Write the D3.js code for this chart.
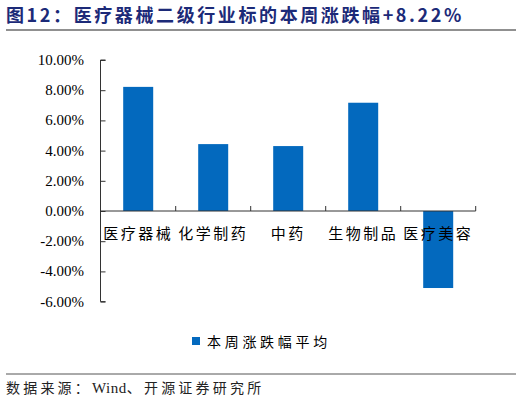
<!DOCTYPE html>
<html>
<head>
<meta charset="utf-8">
<style>
body { margin:0; background:#fff; }
</style>
</head>
<body>
<script src="https://cdn.jsdelivr.net/npm/d3@7/dist/d3.min.js"></script>
<script>
// chart data
var categories = ["医疗器械", "化学制药", "中药", "生物制品", "医疗美容"];
var values = [8.22, 4.43, 4.30, 7.17, -5.10];
var yTicks = [10, 8, 6, 4, 2, 0, -2, -4, -6];
var seriesName = "本周涨跌幅平均";

var W = 522, H = 404;
var svg = d3.select("body").append("svg")
    .attr("width", W).attr("height", H);

var cjk = "'Noto Sans CJK SC', sans-serif";
var serif = "'Liberation Serif', 'DejaVu Serif', serif";

// title + rule
svg.append("text")
    .attr("x", 6).attr("y", 22)
    .style("font-family", cjk).style("font-weight", "bold")
    .style("font-size", "18px").style("letter-spacing", "2.6px")
    .style("fill", "#1c2a78")
    .text("图12：医疗器械二级行业标的本周涨跌幅+8.22%");
svg.append("line").attr("x1", 6).attr("x2", 516).attr("y1", 30).attr("y2", 30)
    .style("stroke", "#222").style("stroke-width", 1.2);

var x = d3.scaleBand().domain(categories).range([100.7, 475.7]).paddingInner(0.6).paddingOuter(0.3);
var xb = d3.scaleBand().domain(categories).range([100.7, 475.7]);
var y = d3.scaleLinear().domain([-6, 10]).range([301.6, 60]);

// bars
svg.selectAll("rect.bar").data(values).enter().append("rect")
    .attr("class", "bar")
    .attr("x", function(d, i) { return x(categories[i]); })
    .attr("width", x.bandwidth())
    .attr("y", function(d) { return y(Math.max(0, d)); })
    .attr("height", function(d) { return Math.abs(y(d) - y(0)); })
    .style("fill", "#0369be");

// y axis
var yAxis = d3.axisRight(y).tickValues(yTicks).tickSize(5).tickFormat("");
var gy = svg.append("g").attr("transform", "translate(100.5,0)").call(yAxis);
gy.select(".domain").attr("d", "M5,60H0V301.6H5").style("stroke", "#333");
gy.selectAll(".tick line").style("stroke", "#333");

svg.selectAll("text.ylab").data(yTicks).enter().append("text")
    .attr("class", "ylab")
    .attr("x", 84).attr("y", function(d) { return y(d) + 5; })
    .attr("text-anchor", "end")
    .style("font-family", serif).style("font-size", "15px").style("fill", "#000")
    .text(function(d) { return d.toFixed(2) + "%"; });

// x axis
var gx = svg.append("g").attr("transform", "translate(0," + y(0) + ")");
gx.append("line").attr("x1", 100.5).attr("x2", 475.7).style("stroke", "#333");
var bounds = categories.map(function(c) { return xb(c) + xb.bandwidth(); });
gx.selectAll("line.xt").data(bounds).enter().append("line")
    .attr("class", "xt")
    .attr("x1", function(d) { return d; }).attr("x2", function(d) { return d; })
    .attr("y1", 0).attr("y2", -5).style("stroke", "#333");

svg.selectAll("text.xlab").data(categories).enter().append("text")
    .attr("class", "xlab")
    .attr("x", function(d) { return xb(d) + xb.bandwidth() / 2; })
    .attr("y", y(0) + 28)
    .attr("text-anchor", "middle")
    .style("font-family", cjk).style("font-size", "15px")
    .style("letter-spacing", "2.5px").style("fill", "#000")
    .text(function(d) { return d; });

// legend
svg.append("rect").attr("x", 192).attr("y", 337).attr("width", 8).attr("height", 8)
    .style("fill", "#0369be");
svg.append("text").attr("x", 207).attr("y", 347)
    .style("font-family", cjk).style("font-size", "14px")
    .style("letter-spacing", "3.7px").style("fill", "#000")
    .text(seriesName);

// footer
svg.append("line").attr("x1", 6).attr("x2", 516).attr("y1", 374).attr("y2", 374)
    .style("stroke", "#555").style("stroke-width", 1);
var src = svg.append("text").attr("x", 6).attr("y", 393)
    .style("font-family", cjk).style("font-size", "14px")
    .style("letter-spacing", "3.2px").style("fill", "#222");
src.append("tspan").text("数据来源：");
src.append("tspan").style("font-family", serif).style("font-size", "15px")
    .style("letter-spacing", "0.5px").text("Wind");
src.append("tspan").text("、开源证券研究所");
</script>
</body>
</html>
